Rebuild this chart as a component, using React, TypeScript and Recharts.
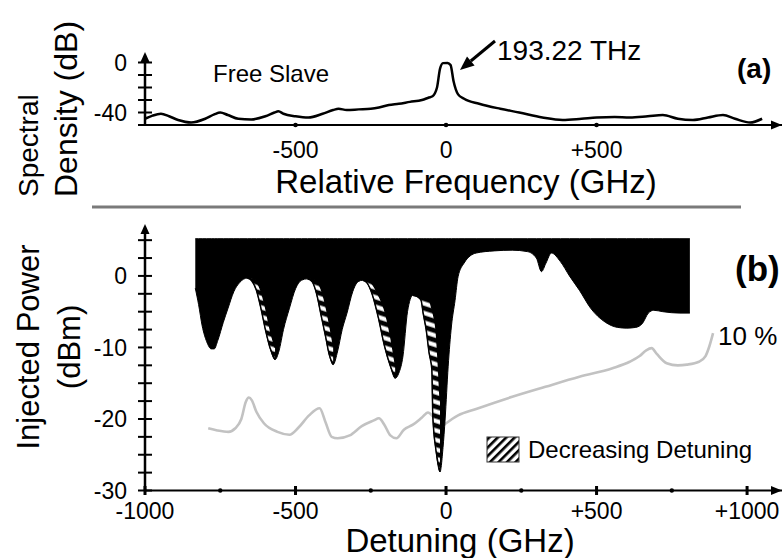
import React from "react";
import { ComposedChart, Line, Area, XAxis, YAxis } from "recharts";

// ---- panel (a): free running slave spectrum ----
const specFreq = [
  -1000, -975, -947, -920, -890, -847, -800, -770, -750, -725, -690, -647, -600, -570, -557, -540, -500, -457, -410,
  -375, -357, -330, -290, -250, -223, -190, -157, -120, -80, -57, -45, -30, -20, -10, 5, 15, 25, 40, 60, 110, 180,
  243, 320, 387, 450, 500, 560, 610, 670, 720, 770, 820, 870, 920, 960, 1010, 1050,
];
const specDb = [
  -45, -42.5, -41, -43, -46, -48, -45, -41.5, -40, -42, -45, -45.5, -43, -40, -39, -41, -43, -44, -41, -38, -37, -38,
  -37.5, -37, -36, -34, -33, -31.5, -30, -28, -27, -20, -5, -0.5, -0.3, -2, -15, -25.5, -29, -33, -37, -40, -44, -46,
  -45, -44, -43.5, -44, -43, -42, -45, -46, -44, -42, -45, -48, -45,
];
const specTicksX = [-500, 0, 500];
const specTicksY = [-50, -40, -30, -20, -10, 0];
const specLabelsY = [0, -40];

// ---- panel (b): injection locking map ----
const detuning = [
  -833, -822, -810, -795, -780, -770, -758, -740, -724, -705, -685, -660,
  -645, -630, -615, -600, -585, -568,
  -555, -540, -520, -500, -480, -460,
  -445, -430, -415, -400, -388, -375,
  -360, -345, -329, -310, -292, -276,
  -262, -245, -225, -205, -185, -169,
  -157, -143, -128, -110,
  -95, -83, -76, -66, -56, -47, -44, -33, -20,
  -10, -3, 7, 18, 30, 40, 60, 100, 160, 220, 270, 300, 317, 332, 350, 380, 410, 443, 480, 530, 570, 600, 630, 653,
  672, 690, 720, 777, 810,
];
// lower edge of the locked (black) region, dBm
const lowerEdge = [
  -1.7, -4, -7, -9.2, -10.2, -10.2, -9, -6.5, -4.5, -2.2, -0.9, -0.3,
  -0.7, -2, -4.5, -7.5, -10, -11.7,
  -10.5, -7.5, -4.5, -1.8, -0.6, -0.4,
  -0.8, -2.5, -5.5, -8.5, -11, -12.4,
  -10.5, -7.5, -5.2, -2.2, -0.8, -0.6,
  -1, -2.6, -5.8, -9.7, -12.6, -14.3,
  -13.6, -11.2, -5, -2.7,
  -2.9, -3.4, -5.2, -7.5, -10.8, -13.1, -19.5, -24.5, -27.4,
  -24, -20, -12.7, -7, -3.4, -0.1, 1.8, 3.2, 3.5, 3.6, 3.4, 2.5, 0.6, 1.8, 3.2, 2, 0, -2, -4.5, -6.5, -7.2, -7.3,
  -7.2, -6.6, -5.2, -4.8, -5, -5.2, -5.2,
];
// upper edge of the hatched "decreasing detuning" band (null = no band)
const hatchEdge = [
  null, null, null, null, null, null, null, null, null, null, null, -0.3,
  -0.3, -0.75, -2, -4.3, -7.3, -10,
  null, null, null, null, null, -0.4,
  -0.45, -0.7, -1.8, -4, -6.5, -9.5,
  null, null, null, null, null, -0.6,
  -0.65, -1.1, -2.6, -4.6, -8.2, -12.2,
  null, null, null, -2.7,
  -2.8, -2.9, -3, -3, -3.3, -4.5, -5, -7.5, -17,
  null, null, null, null, null, null, null, null, null, null, null, null, null, null, null, null, null, null, null,
  null, null, null, null, null, null, null, null, null, null,
];
const mapTop = 5.2;

// 10 % contour
const pct10X = [
  -790, -760, -723, -700, -680, -665, -655, -645, -630, -605, -560, -520, -490, -455, -420, -400, -380, -360, -320,
  -280, -240, -223, -205, -185, -165, -140, -110, -80, -60, -40, -15, 0, 20, 40, 100, 220, 330, 443, 553, 610, 643,
  665, 683, 700, 733, 770, 800, 840, 862, 875, 887,
];
const pct10Y = [
  -21.3, -21.6, -21.8, -21.3, -20, -17.6, -17, -17.4, -19, -20.6, -21.8, -22.2, -21.2, -19.5, -18.5, -20.5, -22.5,
  -22.7, -22.3, -21, -20.2, -19.9, -20.8, -22.3, -22.7, -21.5, -20.8, -19.8, -19.1, -19.8, -21, -20.6, -20, -19.5,
  -18.6, -16.9, -15.5, -14.1, -12.9, -12, -11.2, -10.4, -10.1, -10.9, -12.2, -12.5, -12.4, -12, -11.2, -9.8, -8,
];

const detTicks = [-1000, -750, -500, -250, 0, 250, 500, 750, 1000];
const detMajor = [-1000, -500, 0, 500, 1000];
const powTicks = [-30, -27.5, -25, -22.5, -20, -17.5, -15, -12.5, -10, -7.5, -5, -2.5, 0, 2.5, 5];
const powLabels = [0, -10, -20, -30];

const W = 782;
const H = 558;
const AXIS_X = 145;
const FONT = "'Liberation Sans', Arial, Helvetica, sans-serif";

const specData = specFreq.map((x, i) => ({ x, db: specDb[i] }));
const mapData = detuning.map((x, i) => ({
  x,
  band: [lowerEdge[i], mapTop],
  hatchBand: hatchEdge[i] == null ? null : [lowerEdge[i], hatchEdge[i]],
}));
const pctData = pct10X.map((x, i) => ({ x, y: pct10Y[i] }));

const signed = (v: number) => (v > 0 ? `+${v}` : `${v}`);

const makeYTick = (labels: number[]) => (props: any) => {
  const { x, y, payload } = props;
  return (
    <g>
      <line x1={x - 7} x2={x + 7} y1={y} y2={y} stroke="#000" strokeWidth={2} />
      {labels.includes(payload.value) && (
        <text x={x - 18} y={y} dy="0.36em" textAnchor="end" fontSize={23} fontFamily={FONT} fill="#000">
          {payload.value}
        </text>
      )}
    </g>
  );
};
const specYTick = makeYTick(specLabelsY);
const powYTick = makeYTick(powLabels);

const specXTick = (props: any) => {
  const { x, y, payload } = props;
  return (
    <g>
      <circle cx={x} cy={y} r={2.3} fill="#000" />
      <text x={x} y={y + 33} textAnchor="middle" fontSize={23} fontFamily={FONT} fill="#000">
        {signed(payload.value)}
      </text>
    </g>
  );
};

const detXTick = (props: any) => {
  const { x, y, payload } = props;
  const major = detMajor.includes(payload.value);
  return (
    <g>
      {major ? (
        <rect x={x - 1.5} y={y - 4.5} width={3} height={9} fill="#000" />
      ) : (
        <circle cx={x} cy={y} r={2.2} fill="#000" />
      )}
      {major && (
        <text x={x} y={y + 28} textAnchor="middle" fontSize={23} fontFamily={FONT} fill="#000">
          {signed(payload.value)}
        </text>
      )}
    </g>
  );
};

const abs: React.CSSProperties = { position: "absolute", left: 0, top: 0 };

export default function App() {
  return (
    <div style={{ ...abs, width: W, height: H, background: "#fff", overflow: "hidden" }}>
      <div style={abs}>
        <ComposedChart width={W} height={H} data={specData} margin={{ top: 57.5, right: 0, bottom: 0, left: 0 }}>
          <XAxis
            type="number"
            dataKey="x"
            domain={[-1000, 1116]}
            ticks={specTicksX}
            interval={0}
            tick={specXTick}
            tickLine={false}
            tickSize={0}
            tickMargin={0}
            height={H - 125}
            allowDataOverflow
            axisLine={{ stroke: "#000", strokeWidth: 2 }}
          />
          <YAxis
            type="number"
            domain={[-50, 4]}
            ticks={specTicksY}
            interval={0}
            tick={specYTick}
            tickLine={false}
            tickSize={0}
            tickMargin={0}
            width={AXIS_X}
            allowDataOverflow
            axisLine={{ stroke: "#000", strokeWidth: 2.5 }}
          />
          <Line dataKey="db" type="monotone" stroke="#000" strokeWidth={2.5} dot={false} isAnimationActive={false} />
        </ComposedChart>
      </div>

      <div style={abs}>
        <ComposedChart width={W} height={H} data={mapData} margin={{ top: 228, right: 0, bottom: 0, left: 0 }}>
          <defs>
            <pattern id="hatchFill" width="9" height="9" patternUnits="userSpaceOnUse" patternTransform="rotate(18)">
              <rect width="9" height="9" fill="#000" />
              <rect y="2.5" width="9" height="4.2" fill="#fff" />
            </pattern>
          </defs>
          <XAxis
            type="number"
            dataKey="x"
            domain={[-1000, 1116]}
            ticks={detTicks}
            interval={0}
            tick={detXTick}
            tickLine={false}
            tickSize={0}
            tickMargin={0}
            height={H - 490.5}
            allowDataOverflow
            axisLine={{ stroke: "#000", strokeWidth: 2 }}
          />
          <YAxis
            type="number"
            domain={[-30, 6.7]}
            ticks={powTicks}
            interval={0}
            tick={powYTick}
            tickLine={false}
            tickSize={0}
            tickMargin={0}
            width={AXIS_X}
            allowDataOverflow
            axisLine={{ stroke: "#000", strokeWidth: 2.5 }}
          />
          <Line
            data={pctData}
            dataKey="y"
            type="monotone"
            stroke="#c2c2c2"
            strokeWidth={2.6}
            dot={false}
            isAnimationActive={false}
            zIndex={50}
          />
          <Area
            dataKey="band"
            type="monotone"
            fill="#000"
            fillOpacity={1}
            stroke="#000"
            strokeWidth={1}
            isAnimationActive={false}
          />
          <Area
            dataKey="hatchBand"
            type="monotone"
            fill="url(#hatchFill)"
            fillOpacity={1}
            stroke="#000"
            strokeWidth={1.5}
            isAnimationActive={false}
          />
        </ComposedChart>
      </div>

      <svg width={W} height={H} style={{ ...abs, pointerEvents: "none" }} fontFamily={FONT}>
        <defs>
          <pattern id="legendHatch" width="6" height="6" patternUnits="userSpaceOnUse" patternTransform="rotate(45)">
            <rect width="6" height="6" fill="#fff" />
            <rect width="2.6" height="6" fill="#000" />
          </pattern>
        </defs>
        {/* axis arrow heads */}
        <polygon points="145,52 140.5,62 149.5,62" fill="#000" />
        <polygon points="782,125 771,120.5 771,129.5" fill="#000" />
        <polygon points="145,224 140.5,234 149.5,234" fill="#000" />
        <polygon points="782,490.5 771,486 771,495" fill="#000" />

        {/* panel (a) texts */}
        <text transform="translate(38,197) rotate(-90)" fontSize={28} fill="#000">Spectral</text>
        <text transform="translate(77,197) rotate(-90)" fontSize={32} fill="#000">Density (dB)</text>
        <text x={466} y={193} textAnchor="middle" fontSize={33} fill="#000">Relative Frequency (GHz)</text>
        <text x={213} y={82} fontSize={24} fill="#000">Free Slave</text>
        <text x={497} y={60} fontSize={28} fill="#000">193.22 THz</text>
        <line x1={495} y1={41} x2={470.8} y2={61} stroke="#000" strokeWidth={3} />
        <polygon points="460,70 474.6,65.6 467,56.4" fill="#000" />
        <text x={737} y={78} fontSize={28} fontWeight="bold" fill="#000">(a)</text>

        <line x1={92} y1={207} x2={741} y2={207} stroke="#7a7a7a" strokeWidth={3} />

        {/* panel (b) texts */}
        <text transform="translate(39,347) rotate(-90)" textAnchor="middle" fontSize={31} fill="#000">Injected Power</text>
        <text transform="translate(80,347) rotate(-90)" textAnchor="middle" fontSize={31} fill="#000">(dBm)</text>
        <text x={460} y={552} textAnchor="middle" fontSize={33} fill="#000">Detuning (GHz)</text>
        <text x={735} y={281} fontSize={35} fontWeight="bold" fill="#000">(b)</text>
        <text x={718} y={345} fontSize={26} fill="#000">10 %</text>
        <rect x={487} y={437} width={32} height={25} fill="url(#legendHatch)" stroke="#333" strokeWidth={1} />
        <text x={528} y={458} fontSize={24} fill="#000">Decreasing Detuning</text>
      </svg>
    </div>
  );
}
